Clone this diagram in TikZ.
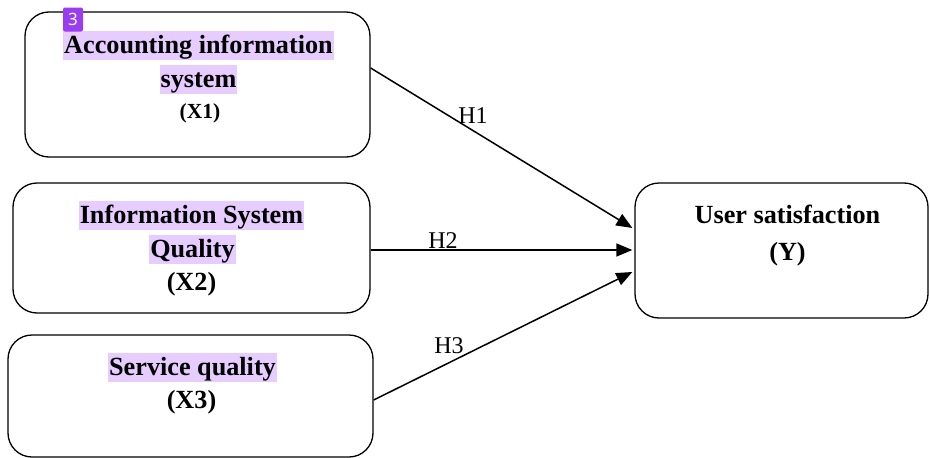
\documentclass[tikz,border=0pt]{standalone}
\usepackage{fontspec}
\setmainfont{Liberation Serif}
\newfontfamily\badgefont{Noto Sans}
\usetikzlibrary{calc,arrows.meta}
\definecolor{hilite}{HTML}{E6CCFF}
\definecolor{badgepurple}{HTML}{9A3CF0}

\tikzset{
	varbox/.style={draw, line width=1.3pt, rounded corners=24pt},
	hiline/.style={fill=hilite, anchor=base, inner xsep=1pt, inner ysep=3pt, text height=19pt, text depth=4pt, font=\fontsize{26.2}{30}\selectfont\bfseries},
	plainline/.style={anchor=base, inner sep=0pt, font=\fontsize{26.2}{30}\selectfont\bfseries},
	hyplabel/.style={anchor=base, inner sep=0pt, font=\fontsize{24}{28}\selectfont},
	hyparrow/.style={line width=1.5pt, -{Triangle[length=16pt,width=13pt]}}
}

\begin{document}
\begin{tikzpicture}[x=1pt, y=-1pt]
			%%%%% START %%%%%
			\useasboundingbox (0, 0) rectangle (930, 458);
			
			% boxes
			\node[varbox, minimum width=345, minimum height=145] (x1) at (197.5, 84.5) {};
			\node[varbox, minimum width=357, minimum height=130] (x2) at (191.5, 248) {};
			\node[varbox, minimum width=365, minimum height=122] (x3) at (190.5, 396) {};
			\node[varbox, minimum width=293, minimum height=135] (y) at (781.5, 250.5) {};
			
			% texts
			\node[hiline] (x1a) at (198.5, 53) {Accounting information};
			\node[hiline] (x1b) at (198.5, 87) {system};
			\node[plainline, font=\fontsize{21.5}{25}\selectfont\bfseries] (x1c) at (200, 118) {(X1)};
			
			\node[hiline] (x2a) at (191.5, 223) {Information System};
			\node[hiline] (x2b) at (192.5, 257) {Quality};
			\node[plainline] (x2c) at (191.5, 290) {(X2)};
			
			\node[hiline] (x3a) at (192.5, 375) {Service quality};
			\node[plainline] (x3b) at (191.5, 408) {(X3)};
			
			\node[plainline] (ya) at (787.5, 223) {User satisfaction};
			\node[plainline] (yb) at (787.5, 260) {(Y)};
			
			% badge
			\node[fill=badgepurple, rounded corners=2pt, minimum width=20, minimum height=24, inner sep=0pt, text=white, font=\badgefont\fontsize{17}{20}\selectfont] (badge) at (73, 19.5) {3};
			
			% hypotheses
			\draw[hyparrow] ($(x1.east)+(0, -16.5)$) -- ($(y.west)+(-2, -22.5)$);
			\draw[hyparrow] ($(x2.east)+(0, 2)$) -- ($(y.west)+(-2, -0.5)$);
			\draw[hyparrow] ($(x3.east)+(0, 4)$) -- ($(y.west)+(-2, 21.5)$);
			
			\node[hyplabel] (h1) at (473, 123) {H1};
			\node[hyplabel] (h2) at (443, 248) {H2};
			\node[hyplabel] (h3) at (449, 353) {H3};
			%%%%% END %%%%%
\end{tikzpicture}
\end{document}
